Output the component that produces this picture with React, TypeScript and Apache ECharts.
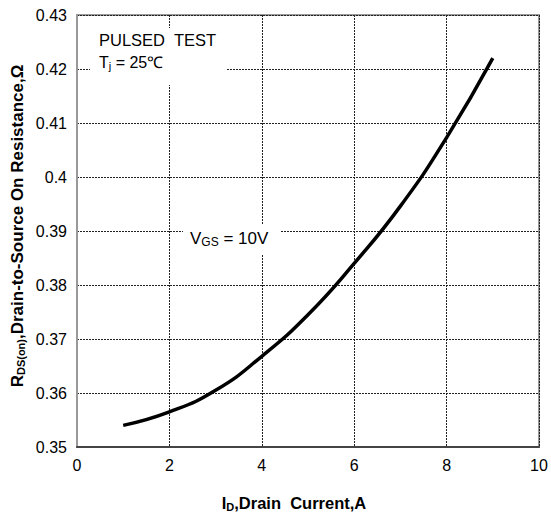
import React, { useEffect, useRef } from "react";
import * as echarts from "echarts";

// Drain current (A) and on-resistance (Ω)
const currentA = [1.0, 2.0, 3.0, 4.0, 5.0, 6.0, 7.0, 8.0, 9.0];
const resistanceOhm = [0.354, 0.3565, 0.3605, 0.3668, 0.3745, 0.384, 0.3946, 0.4073, 0.422];

const xTicks = [0, 2, 4, 6, 8, 10];
const yTicks = [0.35, 0.36, 0.37, 0.38, 0.39, 0.4, 0.41, 0.42, 0.43];

const FONT = "'Liberation Sans', Arial, sans-serif";

export default function App() {
  const ref = useRef<HTMLDivElement>(null);
  useEffect(() => {
    if (!ref.current) return;
    const chart = echarts.init(ref.current, null, { renderer: "svg" });
    const data = currentA.map((x, i) => [x, resistanceOhm[i]]);
    chart.setOption({
      animation: false,
      backgroundColor: "#fff",
      grid: {
        left: 77,
        top: 15,
        width: 462,
        height: 432,
        show: true,
        borderColor: "#999",
        borderWidth: 2,
        outerBoundsMode: "none",
      },
      xAxis: {
        type: "value",
        min: xTicks[0],
        max: xTicks[xTicks.length - 1],
        interval: 2,
        axisLine: { show: true, lineStyle: { color: "#444", width: 2 } },
        axisTick: { show: false },
        axisLabel: { color: "#000", fontSize: 16, fontFamily: FONT, margin: 10 },
        splitLine: { show: true, lineStyle: { color: "#222", width: 1, type: [2, 1] } },
      },
      yAxis: {
        type: "value",
        min: yTicks[0],
        max: yTicks[yTicks.length - 1],
        interval: 0.01,
        axisLine: { show: true, lineStyle: { color: "#999", width: 2 } },
        axisTick: { show: false },
        axisLabel: { color: "#000", fontSize: 16, fontFamily: FONT, margin: 10 },
        splitLine: { show: true, lineStyle: { color: "#222", width: 1, type: [2, 1] } },
      },
      series: [
        {
          type: "line",
          data,
          smooth: 0.5,
          showSymbol: false,
          lineStyle: { color: "#000", width: 3.5 },
          z: 3,
        },
      ],
      graphic: [
        { type: "rect", shape: { x: 90, y: 28, width: 137, height: 57 }, style: { fill: "#fff" }, z: 1 },
        {
          type: "text",
          x: 99,
          y: 40,
          style: { text: "PULSED  TEST", fontSize: 16.5, fontFamily: FONT, fill: "#000", verticalAlign: "middle" },
          z: 2,
        },
        {
          type: "text",
          x: 99,
          y: 62,
          style: {
            text: "T{sub|j} = 25℃",
            fontSize: 16,
            fontFamily: FONT,
            fill: "#000",
            verticalAlign: "middle",
            rich: { sub: { fontSize: 11, fontFamily: FONT, fill: "#000", padding: [8, 0, 0, 0] } },
          },
          z: 2,
        },
        { type: "rect", shape: { x: 183, y: 225, width: 97, height: 30 }, style: { fill: "#fff" }, z: 1 },
        {
          type: "text",
          x: 190,
          y: 238,
          style: {
            text: "V{sub|GS} = 10V",
            fontSize: 17,
            fontFamily: FONT,
            fill: "#000",
            verticalAlign: "middle",
            rich: { sub: { fontSize: 12, fontFamily: FONT, fill: "#000", padding: [8, 0, 0, 0] } },
          },
          z: 2,
        },
        {
          type: "text",
          x: 294,
          y: 503,
          style: {
            text: "I{sub|D},Drain  Current,A",
            fontSize: 16.5,
            fontWeight: "bold",
            fontFamily: FONT,
            fill: "#000",
            align: "center",
            verticalAlign: "middle",
            rich: { sub: { fontSize: 11, fontWeight: "bold", fontFamily: FONT, fill: "#000", padding: [8, 0, 0, 0] } },
          },
          z: 2,
        },
        {
          type: "text",
          x: 17,
          y: 226,
          rotation: Math.PI / 2,
          style: {
            text: "R{sub|DS(on)},Drain-to-Source On Resistance,Ω",
            fontSize: 17,
            fontWeight: "bold",
            fontFamily: FONT,
            fill: "#000",
            align: "center",
            verticalAlign: "middle",
            rich: { sub: { fontSize: 11, fontWeight: "bold", fontFamily: FONT, fill: "#000", padding: [8, 0, 0, 0] } },
          },
          z: 2,
        },
      ],
    });
    return () => chart.dispose();
  }, []);
  return (
    <div
      ref={ref}
      style={{ position: "absolute", left: 0, top: 0, width: 551, height: 518 }}
    />
  );
}
